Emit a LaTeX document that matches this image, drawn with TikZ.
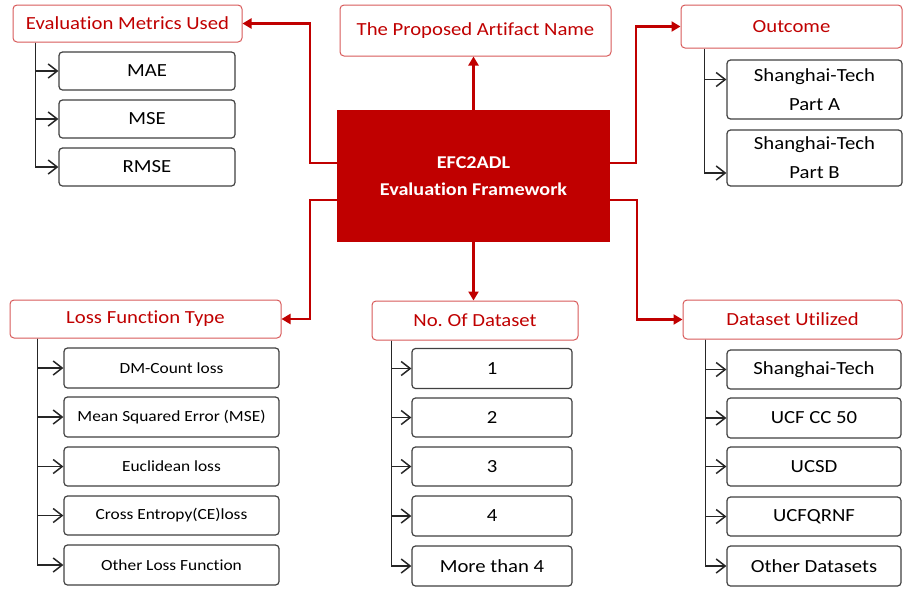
\documentclass[tikz,border=0pt]{standalone}
\usepackage{fontspec}
\setmainfont{Carlito}[FakeStretch=1.12,Ligatures=NoCommon]
\usetikzlibrary{arrows.meta}
\definecolor{dred}{HTML}{C00000}
\definecolor{hbord}{HTML}{D85A5A}
\definecolor{ibord}{HTML}{404040}
\frenchspacing
\begin{document}
\begin{tikzpicture}[x=1pt,y=-1pt,
  hdr/.style={draw=hbord, line width=1pt, rounded corners=4pt, fill=white, text=dred,
    font=\fontsize{18.5}{22}\selectfont, inner sep=0pt, align=center},
  item/.style={draw=ibord, line width=1.2pt, rounded corners=3.5pt, fill=white, text=black,
    font=\fontsize{18.5}{29}\selectfont, inner sep=0pt, align=center},
  lossitem/.style={item, font=\fontsize{15.5}{20}\selectfont},
  ctrbox/.style={fill=dred, draw=none, text=white, inner sep=0pt, align=center,
    font=\fontsize{18}{27}\selectfont\bfseries},
  redarrow/.style={draw=dred, line width=2.2pt, -{Triangle[length=9pt,width=10pt]}},
  tree/.style={draw=black!85, line width=1.8pt, -{Straight Barb[length=9pt,width=14pt,line width=1.5pt]}}
]
\useasboundingbox (0,0) rectangle (904,590);

% central
\node[ctrbox, minimum width=273, minimum height=132] (ctr) at (473.5,176) {EFC2ADL\\Evaluation Framework};

% headers
\node[hdr, minimum width=229, minimum height=37] (em) at (127.5,23.5) {Evaluation Metrics Used};
\node[hdr, minimum width=271, minimum height=51] (pa) at (475.5,30.5) {The Proposed Artifact Name};
\node[hdr, minimum width=221, minimum height=43] (out) at (791.5,26.5) {Outcome};
\node[hdr, minimum width=271, minimum height=38] (lf) at (145.5,319) {Loss Function Type};
\node[hdr, minimum width=206, minimum height=39] (nd) at (475,320.5) {No.\ Of Dataset};
\node[hdr, minimum width=219, minimum height=39] (du) at (792.5,319.5) {Dataset Utilized};

% evaluation metrics items
\node[item, minimum width=176, minimum height=38] (mae) at (147,71) {MAE};
\node[item, minimum width=176, minimum height=38] (mse) at (147,119) {MSE};
\node[item, minimum width=176, minimum height=38] (rmse) at (147,167) {RMSE};

% outcome items
\node[item, minimum width=175, minimum height=59] (pA) at (814.5,89.5) {Shanghai-Tech\\Part A};
\node[item, minimum width=175, minimum height=56] (pB) at (814.5,158) {Shanghai-Tech\\Part B};

% loss items
\node[lossitem, minimum width=215, minimum height=40] (l1) at (171.5,368) {DM-Count loss};
\node[lossitem, minimum width=215, minimum height=40] (l2) at (171.5,417) {Mean Squared Error (MSE)};
\node[lossitem, minimum width=215, minimum height=39] (l3) at (171.5,466.5) {Euclidean loss};
\node[lossitem, minimum width=215, minimum height=39] (l4) at (171.5,515.5) {Cross Entropy(CE)loss};
\node[lossitem, minimum width=215, minimum height=40] (l5) at (171.5,565) {Other Loss Function};

% number of dataset items
\node[item, minimum width=160, minimum height=40] (n1) at (492,368.5) {1};
\node[item, minimum width=160, minimum height=39] (n2) at (492,417.5) {2};
\node[item, minimum width=160, minimum height=39] (n3) at (492,466.5) {3};
\node[item, minimum width=160, minimum height=40] (n4) at (492,516) {4};
\node[item, minimum width=160, minimum height=40] (n5) at (492,566) {More than 4};

% dataset utilized items
\node[item, minimum width=174, minimum height=39] (d1) at (814,369.5) {Shanghai-Tech};
\node[item, minimum width=174, minimum height=40] (d2) at (814,418) {UCF CC 50};
\node[item, minimum width=174, minimum height=39] (d3) at (814,466.5) {UCSD};
\node[item, minimum width=174, minimum height=39] (d4) at (814,516.5) {UCFQRNF};
\node[item, minimum width=174, minimum height=40] (d5) at (814,566) {Other Datasets};

% red connectors
\draw[redarrow] (ctr.north) -- (ctr.north |- pa.south);
\draw[redarrow] (ctr.south) -- (ctr.south |- nd.north);
\draw[redarrow] ([yshift=13pt]ctr.west) -- ++(-27,0) |- (em.east);
\draw[redarrow] ([yshift=13pt]ctr.east) -- ++(26,0) |- (out.west);
\draw[redarrow] ([yshift=-24pt]ctr.west) -- ++(-27,0) |- (lf.east);
\draw[redarrow] ([yshift=-24pt]ctr.east) -- ++(27,0) |- (du.west);

% tree connectors
\foreach \t in {mae,mse,rmse}
  \draw[tree] ([xshift=23pt]em.south west) |- (\t.west);
\draw[tree] ([xshift=24pt]out.south west) |- ([yshift=10pt]pA.west);
\draw[tree] ([xshift=24pt]out.south west) |- ([yshift=-15pt]pB.west);
\foreach \t in {l1,l2,l3,l4,l5}
  \draw[tree] ([xshift=28pt]lf.south west) |- (\t.west);
\foreach \t in {n1,n2,n3,n4,n5}
  \draw[tree] ([xshift=20pt]nd.south west) |- (\t.west);
\foreach \t in {d1,d2,d3,d4,d5}
  \draw[tree] ([xshift=23pt]du.south west) |- (\t.west);
\end{tikzpicture}
\end{document}
